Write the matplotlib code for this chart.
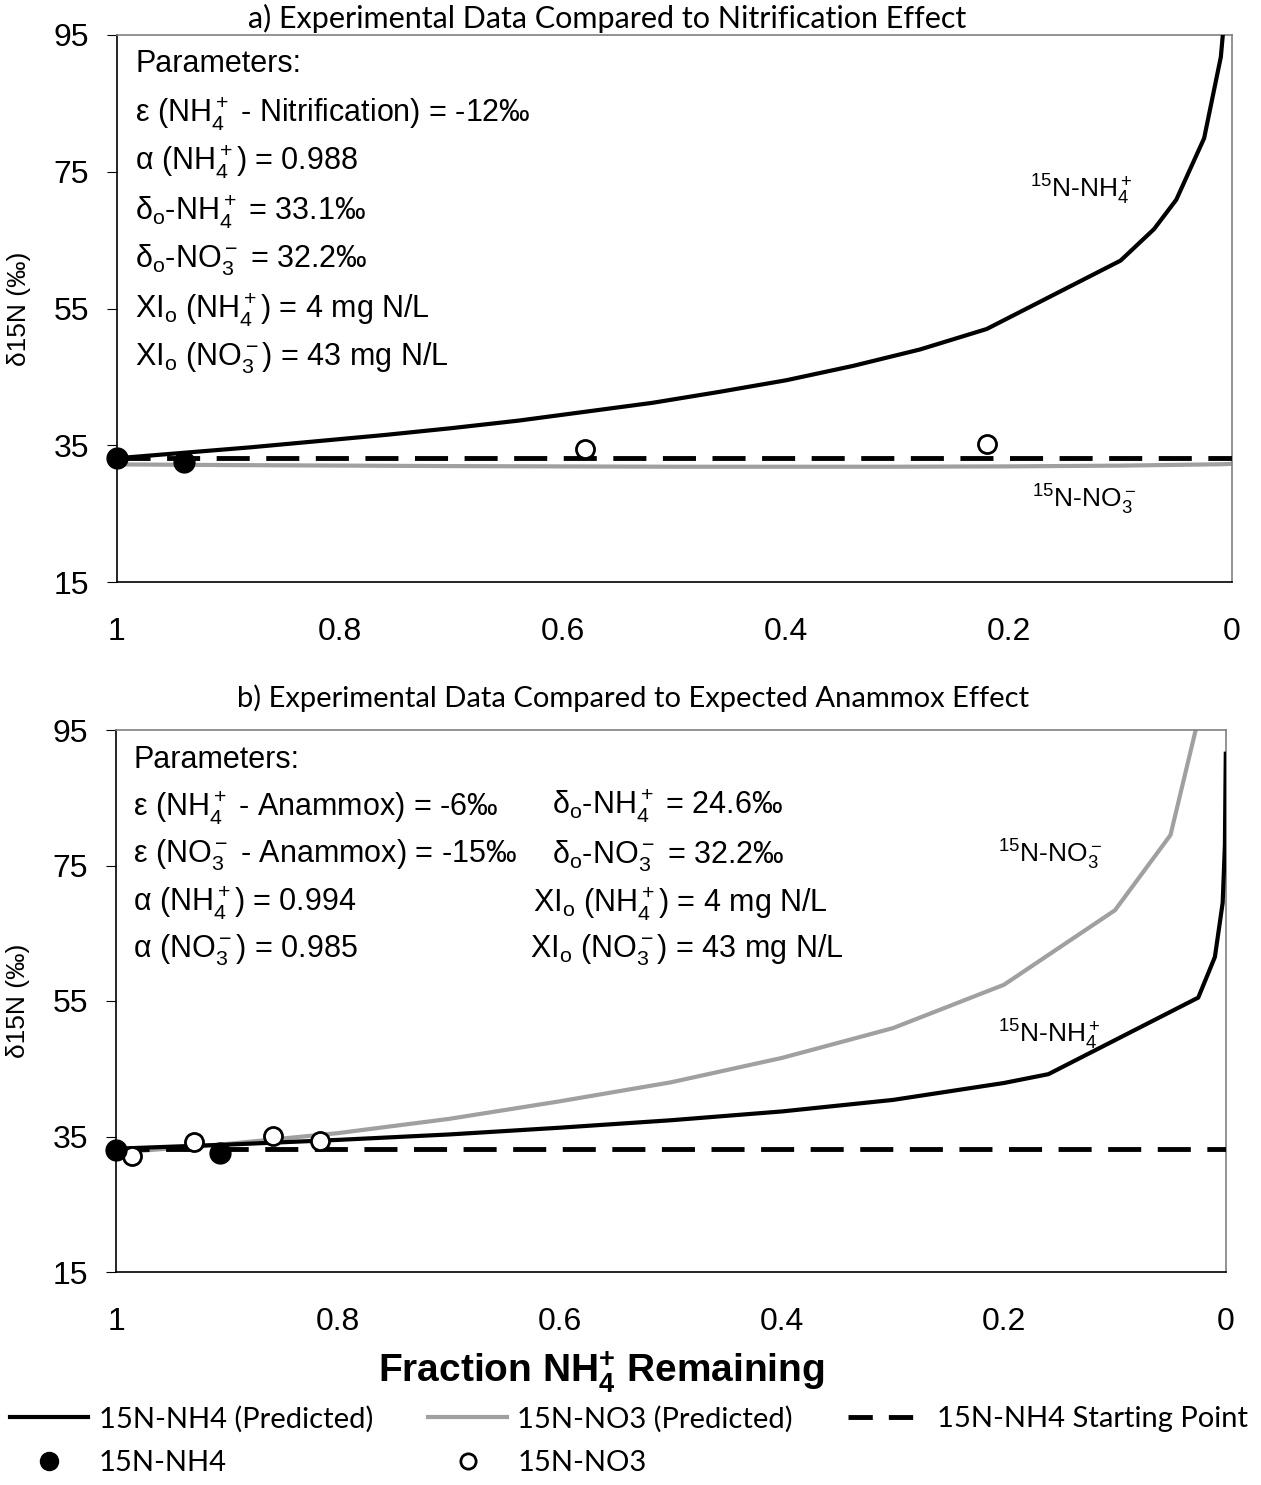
import numpy as np
import matplotlib.pyplot as plt
from matplotlib.lines import Line2D

plt.rcParams['font.family'] = ['Liberation Sans', 'DejaVu Sans']
plt.rcParams['mathtext.fontset'] = 'custom'
plt.rcParams['mathtext.rm'] = 'Liberation Sans'
plt.rcParams['mathtext.it'] = 'Liberation Sans:italic'
plt.rcParams['mathtext.bf'] = 'Liberation Sans:bold'

# a) nitrification panel
a_f_nh4 = [1.0, 0.94, 0.88, 0.82, 0.76, 0.70, 0.64, 0.58, 0.52, 0.46, 0.40, 0.34,
           0.28, 0.22, 0.10, 0.07, 0.05, 0.025, 0.01, 0.005]
a_d_nh4 = [33.1, 33.9, 34.7, 35.6, 36.5, 37.5, 38.6, 39.9, 41.2, 42.8, 44.5, 46.6,
           49.0, 52.0, 62.0, 66.6, 70.9, 79.9, 91.8, 100.9]
a_f_no3 = [1.0, 0.9, 0.7, 0.5, 0.3, 0.2, 0.1, 0.01, 0.0]
a_d_no3 = [32.2, 32.1, 31.95, 31.86, 31.86, 31.91, 32.02, 32.22, 32.28]
a_pts_nh4_f = [1.0, 0.94]
a_pts_nh4_d = [33.2, 32.6]
a_pts_no3_f = [0.58, 0.22]
a_pts_no3_d = [34.5, 35.2]

# b) anammox panel
b_f_nh4 = [1.0, 0.9, 0.8, 0.7, 0.6, 0.5, 0.4, 0.3, 0.2, 0.16, 0.025, 0.01, 0.003, 0.001, 0.0002]
b_d_nh4 = [33.2, 33.8, 34.5, 35.3, 36.3, 37.4, 38.7, 40.4, 42.9, 44.2, 55.5, 61.5, 69.5, 78.0, 91.5]
b_f_no3 = [1.0, 0.9, 0.8, 0.7, 0.6, 0.5, 0.4, 0.3, 0.2, 0.1, 0.05, 0.02]
b_d_no3 = [32.6, 33.9, 35.5, 37.6, 40.2, 43.0, 46.6, 51.0, 57.4, 68.4, 79.5, 100.0]
b_pts_nh4_f = [1.0, 0.906]
b_pts_nh4_d = [33.0, 32.6]
b_pts_no3_f = [0.986, 0.930, 0.859, 0.816]
b_pts_no3_d = [32.1, 34.2, 35.1, 34.3]

start_f = [1.0, 0.0]
start_d = [33.1, 33.1]

yticks = [15, 35, 55, 75, 95]
xticks = [1, 0.8, 0.6, 0.4, 0.2, 0]
xticklabels = ['1', '0.8', '0.6', '0.4', '0.2', '0']

W, H = 1261, 1485
fig = plt.figure(figsize=(W / 100, H / 100), dpi=100)

def px(x, y):
    return x / W, 1 - y / H

ax1 = fig.add_axes([117 / W, 1 - 582 / H, 1115 / W, 547 / H])
ax2 = fig.add_axes([116 / W, 1 - 1272 / H, 1110 / W, 542 / H])

GRAY = '#a0a0a0'
dash = (0, (6.8, 3.4))

def style(ax):
    ax.set_xlim(1, 0)
    ax.set_ylim(15, 95)
    ax.set_yticks(yticks)
    ax.set_xticks(xticks)
    ax.set_xticklabels(xticklabels)
    ax.tick_params(axis='y', direction='out', length=7, labelsize=23, pad=13)
    ax.tick_params(axis='x', length=0, labelsize=23, pad=25)
    for s in ['top', 'right']:
        ax.spines[s].set_color('#808080')
        ax.spines[s].set_linewidth(1.2)
    for s in ['left', 'bottom']:
        ax.spines[s].set_linewidth(1.2)
    ax.set_ylabel('δ15N (‰)', fontsize=19)
    w = ax.get_position().width * W
    ax.yaxis.set_label_coords(-86 / w, 0.5)

for ax, fn, dn, fo, do_, pnf, pnd, pof, pod in [
        (ax1, a_f_nh4, a_d_nh4, a_f_no3, a_d_no3, a_pts_nh4_f, a_pts_nh4_d, a_pts_no3_f, a_pts_no3_d),
        (ax2, b_f_nh4, b_d_nh4, b_f_no3, b_d_no3, b_pts_nh4_f, b_pts_nh4_d, b_pts_no3_f, b_pts_no3_d)]:
    style(ax)
    ax.plot(fo, do_, color=GRAY, lw=3, zorder=2)
    ax.plot(fn, dn, color='black', lw=3, zorder=3)
    ax.plot(start_f, start_d, color='black', lw=3.5, linestyle=dash, zorder=4)
    ax.plot(pof, pod, 'o', ms=13, mfc='white', mec='black', mew=2, zorder=5, clip_on=False)
    ax.plot(pnf, pnd, 'o', ms=15, mfc='black', mec='black', zorder=6, clip_on=False)

ttl = dict(family=['Lato', 'DejaVu Sans'], ha='center', va='center')
fig.text(*px(607, 18), 'a) Experimental Data Compared to Nitrification Effect', fontsize=22, **ttl)
fig.text(*px(633, 698), 'b) Experimental Data Compared to Expected Anammox Effect', fontsize=21, **ttl)

# parameter text, panel a
pa = ['Parameters:',
      'ε (NH$_4^+$ - Nitrification) = -12‰',
      'α (NH$_4^+$) = 0.988',
      'δ$_\\mathrm{o}$-NH$_4^+$ = 33.1‰',
      'δ$_\\mathrm{o}$-NO$_3^-$ = 32.2‰',
      'XI$_\\mathrm{o}$ (NH$_4^+$) = 4 mg N/L',
      'XI$_\\mathrm{o}$ (NO$_3^-$) = 43 mg N/L']
for i, t in enumerate(pa):
    fig.text(*px(135, 64 + i * 49), t, fontsize=22, va='center', ha='left')

# parameter text, panel b
pb = ['Parameters:',
      'ε (NH$_4^+$ - Anammox) = -6‰',
      'ε (NO$_3^-$ - Anammox) = -15‰',
      'α (NH$_4^+$) = 0.994',
      'α (NO$_3^-$) = 0.985']
for i, t in enumerate(pb):
    fig.text(*px(133, 760 + i * 47.5), t, fontsize=22, va='center', ha='left')
pb2 = [(552, 806, 'δ$_\\mathrm{o}$-NH$_4^+$ = 24.6‰'),
       (552, 856, 'δ$_\\mathrm{o}$-NO$_3^-$ = 32.2‰'),
       (533, 903, 'XI$_\\mathrm{o}$ (NH$_4^+$) = 4 mg N/L'),
       (530, 950, 'XI$_\\mathrm{o}$ (NO$_3^-$) = 43 mg N/L')]
for x, y, t in pb2:
    fig.text(*px(x, y), t, fontsize=22, va='center', ha='left')

lab = dict(fontsize=19, va='center', ha='left')
fig.text(*px(1030, 190), '$^{15}$N-NH$_4^+$', **lab)
fig.text(*px(1032, 500), '$^{15}$N-NO$_3^-$', **lab)
fig.text(*px(998, 855), '$^{15}$N-NO$_3^-$', **lab)
fig.text(*px(998, 1035), '$^{15}$N-NH$_4^+$', **lab)

fig.text(*px(601, 1372), 'Fraction NH$_\\mathbf{4}^\\mathbf{+}$ Remaining', fontsize=28,
         fontweight='bold', ha='center', va='center')

handles = [Line2D([], [], color='black', lw=3),
           Line2D([], [], marker='o', ls='none', ms=13, mfc='black', mec='black'),
           Line2D([], [], color=GRAY, lw=3),
           Line2D([], [], marker='o', ls='none', ms=11, mfc='white', mec='black', mew=2),
           Line2D([], [], color='black', lw=3.5, linestyle=(0, (5.0, 3.3)))]
labels = ['15N-NH4 (Predicted)', '15N-NH4', '15N-NO3 (Predicted)', '15N-NO3',
          '15N-NH4 Starting Point']
fig.legend(handles, labels, ncol=3, loc='center', bbox_to_anchor=(629 / W, 1 - 1441 / H),
           frameon=False, prop={'family': ['Lato', 'DejaVu Sans'], 'size': 21},
           handlelength=2.7, handletextpad=0.35, columnspacing=1.9, labelspacing=0.62,
           borderpad=0, borderaxespad=0)

fig.savefig('out.png', dpi=100)
